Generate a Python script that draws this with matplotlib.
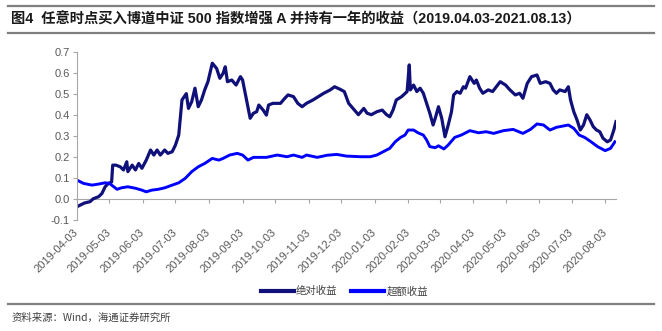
import matplotlib
matplotlib.use("Agg")
import matplotlib.pyplot as plt
import matplotlib.dates as mdates
from matplotlib.lines import Line2D
import pandas as pd

plt.rcParams["font.family"] = ["Liberation Sans", "Noto Sans CJK SC", "DejaVu Sans"]

# holding start date for each point, as day offset from the first start date
start_date = "2019-04-03"
end_date = "2020-08-13"

abs_days = [0, 3, 7, 12, 15, 20, 23, 26, 29, 32, 33, 36, 40, 43, 46, 47, 51, 54, 57, 60,
            64, 68, 71, 74, 77, 81, 84, 88, 91, 94, 97, 101, 103, 106, 109, 112, 115, 118,
            121, 125, 129, 132, 135, 137, 139, 143, 147, 151, 153, 156, 160, 163, 166, 168,
            172, 175, 177, 181, 188, 192, 195, 200, 204, 208, 212, 218, 223, 228, 234, 238,
            243, 247, 251, 255, 260, 265, 268, 272, 277, 282, 286, 289, 292, 295, 300, 305,
            307, 308, 311, 314, 317, 320, 323, 326, 329, 331, 334, 337, 340, 343, 346, 348,
            351, 354, 357, 359, 363, 367, 369, 372, 375, 380, 384, 391, 396, 400, 405, 409,
            412, 416, 420, 425, 428, 433, 437, 440, 443, 446, 451, 454, 456, 459, 462, 465,
            468, 471, 474, 477, 480, 483, 486, 490, 493, 496, 498]
abs_ret = [-0.038, -0.03, -0.02, -0.014, 0.0, 0.01, 0.025, 0.057, 0.073, 0.08, 0.16, 0.16,
           0.152, 0.137, 0.176, 0.129, 0.16, 0.137, 0.168, 0.145, 0.184, 0.232, 0.208, 0.232,
           0.208, 0.232, 0.216, 0.224, 0.256, 0.303, 0.47, 0.50, 0.43, 0.462, 0.526, 0.438,
           0.47, 0.518, 0.557, 0.645, 0.62, 0.573, 0.597, 0.628, 0.557, 0.565, 0.541, 0.581,
           0.565, 0.486, 0.383, 0.407, 0.414, 0.446, 0.422, 0.398, 0.446, 0.454, 0.454, 0.478,
           0.494, 0.486, 0.454, 0.438, 0.454, 0.47, 0.486, 0.502, 0.518, 0.533, 0.521, 0.51,
           0.454, 0.43, 0.40, 0.43, 0.407, 0.40, 0.414, 0.422, 0.40, 0.39, 0.422, 0.47, 0.486,
           0.51, 0.637, 0.518, 0.541, 0.51, 0.526, 0.502, 0.454, 0.407, 0.351, 0.383, 0.438,
           0.383, 0.295, 0.351, 0.414, 0.494, 0.51, 0.502, 0.533, 0.526, 0.581, 0.549, 0.565,
           0.526, 0.502, 0.518, 0.51, 0.557, 0.541, 0.518, 0.494, 0.502, 0.478, 0.549, 0.581,
           0.589, 0.549, 0.557, 0.549, 0.518, 0.502, 0.518, 0.51, 0.533, 0.47, 0.414, 0.375,
           0.327, 0.351, 0.40, 0.375, 0.343, 0.327, 0.319, 0.288, 0.271, 0.28, 0.327, 0.367]

exc_days = [0, 6, 14, 20, 26, 30, 34, 37, 41, 47, 54, 60, 64, 69, 75, 81, 88, 94, 100, 106,
            112, 118, 125, 131, 135, 141, 148, 153, 158, 163, 175, 185, 194, 200, 208, 212,
            222, 231, 240, 249, 262, 271, 277, 283, 289, 294, 299, 303, 306, 311, 315, 320,
            323, 326, 331, 334, 339, 343, 349, 355, 363, 371, 378, 385, 394, 403, 412, 419,
            425, 431, 437, 443, 449, 454, 459, 464, 469, 475, 481, 488, 493, 497]
exc_ret = [0.089, 0.073, 0.065, 0.07, 0.076, 0.073, 0.057, 0.045, 0.052, 0.057, 0.05, 0.041,
           0.033, 0.041, 0.045, 0.052, 0.065, 0.076, 0.097, 0.129, 0.152, 0.168, 0.192, 0.184,
           0.192, 0.208, 0.216, 0.208, 0.184, 0.197, 0.197, 0.208, 0.2, 0.208, 0.197, 0.208,
           0.197, 0.207, 0.211, 0.203, 0.2, 0.2, 0.208, 0.224, 0.24, 0.271, 0.292, 0.303,
           0.327, 0.327, 0.314, 0.303, 0.28, 0.248, 0.243, 0.252, 0.237, 0.256, 0.292, 0.303,
           0.324, 0.314, 0.319, 0.311, 0.324, 0.33, 0.311, 0.33, 0.356, 0.351, 0.327, 0.34,
           0.346, 0.351, 0.335, 0.303, 0.292, 0.271, 0.248, 0.229, 0.24, 0.271]

tick_dates = ["2019-04-03", "2019-05-03", "2019-06-03", "2019-07-03", "2019-08-03",
              "2019-09-03", "2019-10-03", "2019-11-03", "2019-12-03", "2020-01-03",
              "2020-02-03", "2020-03-03", "2020-04-03", "2020-05-03", "2020-06-03",
              "2020-07-03", "2020-08-03"]
y_ticks = [-0.1, 0.0, 0.1, 0.2, 0.3, 0.4, 0.5, 0.6, 0.7]

title = "图4  任意时点买入博道中证 500 指数增强 A 并持有一年的收益（2019.04.03-2021.08.13）"
source = "资料来源：Wind，海通证券研究所"
series_names = ["绝对收益", "超额收益"]

t0 = pd.Timestamp(start_date)
abs_x = t0 + pd.to_timedelta(abs_days, unit="D")
exc_x = t0 + pd.to_timedelta(exc_days, unit="D")

fig = plt.figure(figsize=(6.62, 3.31), dpi=100)
ax = fig.add_axes([0.1163, 0.336, 0.8142, 0.508])

dark = "#10107a"
blue = "#0000ff"
grey_txt = "#595959"
axis_col = "#a6a6a6"

l1, = ax.plot(abs_x, abs_ret, color=dark, lw=2.3, solid_joinstyle="round")
l2, = ax.plot(exc_x, exc_ret, color=blue, lw=2.1, solid_joinstyle="round")

ax.set_xlim(t0, pd.Timestamp(end_date))
ax.set_ylim(-0.1, 0.7)
ax.set_yticks(y_ticks)
ax.yaxis.set_major_formatter(plt.FormatStrFormatter("%.1f"))

ax.set_xticks(pd.to_datetime(tick_dates))
ax.xaxis.set_major_formatter(mdates.DateFormatter("%Y-%m-%d"))

for s in ["top", "right"]:
    ax.spines[s].set_visible(False)
ax.spines["left"].set_color(axis_col)
ax.spines["bottom"].set_color(axis_col)
ax.spines["bottom"].set_position(("data", 0))
ax.spines["bottom"].set_zorder(0)

# x axis sits at 0, labels pushed below the -0.1 line
ax.tick_params(axis="y", colors=axis_col, labelcolor=grey_txt, labelsize=8,
               direction="out", length=3, pad=2)
ax.tick_params(axis="x", colors=axis_col, labelcolor=grey_txt, labelsize=8,
               direction="out", length=3, pad=20)
for lab in ax.get_xticklabels():
    lab.set_rotation(45)
    lab.set_ha("right")
    lab.set_va("center")
    lab.set_rotation_mode("anchor")

# title and footer rules
rule = dict(color="#7f7f7f", lw=1.6)
fig.add_artist(Line2D([0.012, 0.988], [1 - 6 / 331, 1 - 6 / 331], **rule))
fig.add_artist(Line2D([0.012, 0.988], [1 - 33 / 331, 1 - 33 / 331], **rule))
fig.add_artist(Line2D([0.012, 0.988], [1 - 304 / 331, 1 - 304 / 331], **rule))

fig.text(0.016, 1 - 19.5 / 331, title, fontsize=10.3, fontweight="bold",
         color="#1a1a1a", va="center", ha="left")
fig.text(0.018, 1 - 318 / 331, source, fontsize=7.5, color="#404040",
         va="center", ha="left", family=["Noto Sans CJK SC", "DejaVu Sans"])

leg = fig.legend([l1, l2], series_names, loc="center", ncol=2,
                 bbox_to_anchor=(0.52, 1 - 291 / 331), frameon=False,
                 handlelength=3.2, handletextpad=0.2, columnspacing=1.3,
                 prop={"family": "Noto Sans CJK SC", "size": 7.5})
for h in leg.legend_handles:
    h.set_linewidth(3)
for t in leg.get_texts():
    t.set_color("#404040")

fig.savefig("out.png", dpi=100)
